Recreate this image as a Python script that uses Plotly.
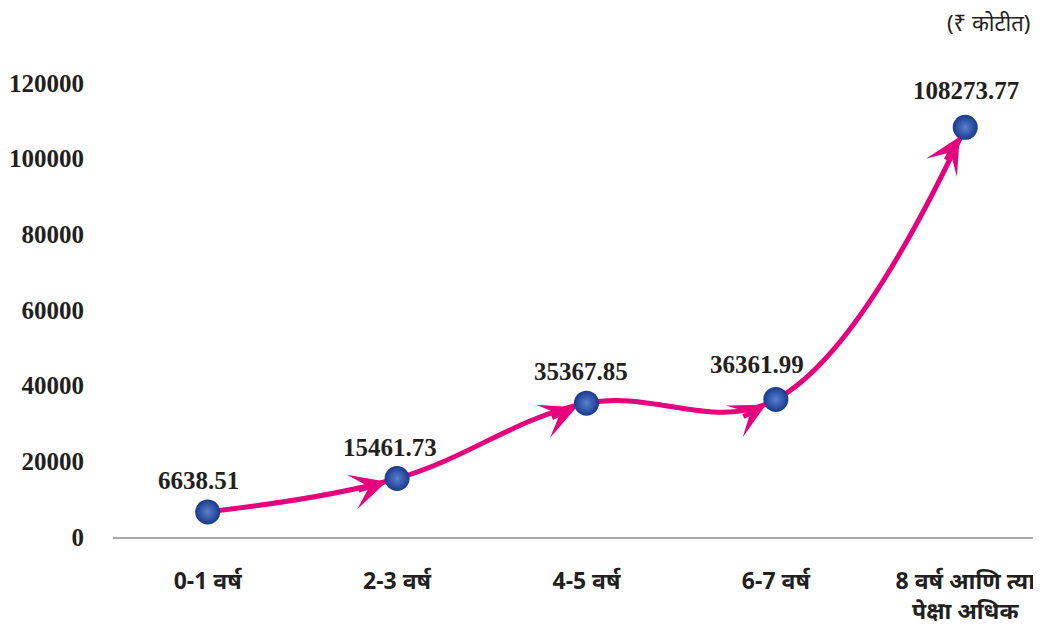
import plotly.graph_objects as go

# Data (₹ crore)
categories = ["0-1 वर्ष", "2-3 वर्ष", "4-5 वर्ष", "6-7 वर्ष", "8 वर्ष आणि त्या<br>पेक्षा अधिक"]
values = [6638.51, 15461.73, 35367.85, 36361.99, 108273.77]
y_ticks = [0, 20000, 40000, 60000, 80000, 100000, 120000]

LINE = "#E6007E"
BALL = "#173A8C"
SERIF = "Liberation Serif, Times New Roman, serif"

fig = go.Figure()

# smooth magenta curve
fig.add_trace(
    go.Scatter(
        x=categories,
        y=values,
        mode="lines",
        line=dict(color=LINE, width=5, shape="spline", smoothing=1.1),
        hoverinfo="skip",
        cliponaxis=False,
    )
)

# arrowheads pointing into points 2..5 (offsets = approach direction in px)
arrow_dirs = [(-40, 12), (-36, 15), (-34, 18), (-20, 34)]
for cat, val, (ax, ay) in zip(categories[1:], values[1:], arrow_dirs):
    fig.add_annotation(
        x=cat, y=val, ax=ax, ay=ay, text="",
        showarrow=True, arrowhead=3, arrowsize=1.2, arrowwidth=5,
        arrowcolor=LINE, standoff=11,
    )

# blue spheres
fig.add_trace(
    go.Scatter(
        x=categories,
        y=values,
        mode="markers",
        marker=dict(
            size=25,
            color=BALL,
            gradient=dict(type="radial", color="#5B80CF"),
            line=dict(width=0),
        ),
        hoverinfo="skip",
        cliponaxis=False,
    )
)

# value labels
label_shift = [(-9, 31), (-7, 31), (-5, 32), (-19, 35), (1, 37)]
for cat, val, (dx, dy) in zip(categories, values, label_shift):
    fig.add_annotation(
        x=cat, y=val, text=f"{val:.2f}", showarrow=False,
        xshift=dx, yshift=dy,
        font=dict(family=SERIF, size=25, color="#231F20", weight="bold"),
    )

# unit note
fig.add_annotation(
    xref="paper", yref="paper", x=1.0, y=1.0, xshift=-10, yshift=61,
    xanchor="right", yanchor="middle", text="(₹ कोटीत)", showarrow=False,
    borderpad=0,
    font=dict(family="Noto Sans, sans-serif", size=22, color="#231F20"),
)

# the page body has an 8px margin, so the figure is sized to end at the window edge
fig.update_layout(
    width=1033,
    height=628,
    margin=dict(l=105, r=0, t=75, b=99),
    paper_bgcolor="white",
    plot_bgcolor="white",
    showlegend=False,
)
fig.update_xaxes(
    type="category",
    range=[-0.5, 4.4],
    showgrid=False,
    showline=True,
    linecolor="#A7A9AC",
    linewidth=2,
    ticks="",
    ticklabelstandoff=22,
    tickfont=dict(family="Noto Sans, sans-serif", size=23, color="#231F20", weight="bold"),
)
fig.update_yaxes(
    range=[0, 120000],
    tickvals=y_ticks,
    ticktext=[str(v) for v in y_ticks],
    showgrid=False,
    zeroline=False,
    showline=False,
    ticks="",
    ticklabelstandoff=28,
    tickfont=dict(family=SERIF, size=25, color="#231F20", weight="bold"),
)

fig.write_html("out.html")
